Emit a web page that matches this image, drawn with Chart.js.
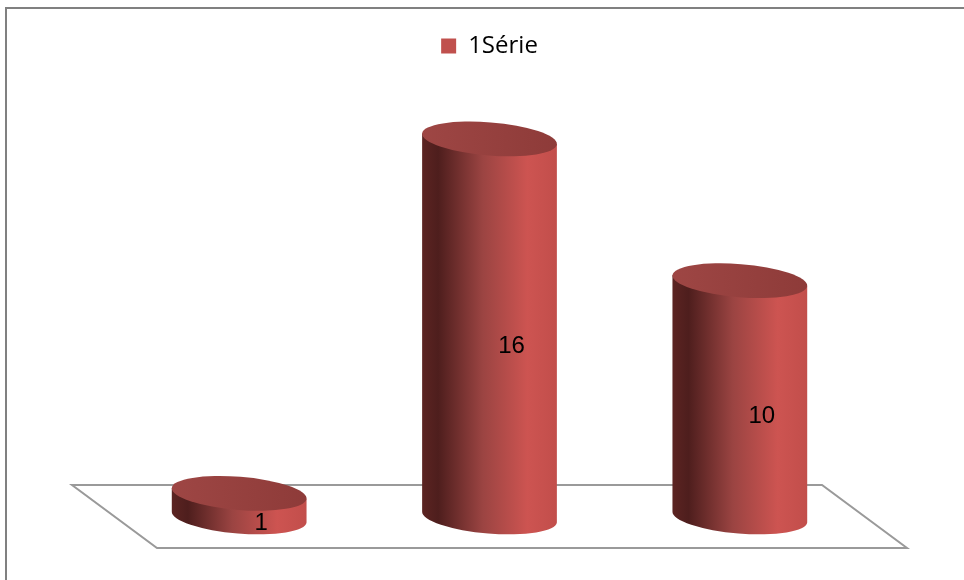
<!DOCTYPE html>
<html>
<head>
<meta charset="utf-8">
<script src="https://cdn.jsdelivr.net/npm/chart.js@4/dist/chart.umd.min.js"></script>
<style>
  html, body { margin: 0; padding: 0; background: #fff; }
  canvas { display: block; }
</style>
</head>
<body>
<canvas id="myChart" width="964" height="580"></canvas>
<script>
const categories = ['1', '2', '3'];
const seriesName = '1Série';
const seriesValues = [1, 16, 10];

const RED = '#C0504D';

// Outer frame and the 3D floor under the cylinders
const framePlugin = {
    id: 'frame',
    beforeDatasetsDraw(chart) {
        const { ctx, chartArea, scales } = chart;
        const base = scales.y.getPixelForValue(0);
        ctx.save();
        ctx.strokeStyle = '#808080';
        ctx.lineWidth = 2;
        ctx.beginPath();
        ctx.moveTo(6, 580);
        ctx.lineTo(6, 8);
        ctx.lineTo(964, 8);
        ctx.stroke();

        const l = chartArea.left, r = chartArea.right;
        ctx.strokeStyle = '#9a9a9a';
        ctx.beginPath();
        ctx.moveTo(l - 42, base - 32);
        ctx.lineTo(r - 43, base - 32);
        ctx.lineTo(r + 42, base + 31);
        ctx.lineTo(l + 43, base + 31);
        ctx.closePath();
        ctx.stroke();
        ctx.restore();
    }
};

// Replace the flat bars with shaded cylinders
const cylinderPlugin = {
    id: 'cylinders',
    beforeDatasetDraw(chart, args) {
        const { ctx } = chart;
        const meta = args.meta;
        const rot = 0.08;
        ctx.save();
        meta.data.forEach((bar, i) => {
            const cx = bar.x;
            const a = bar.width / 2;
            const b = a * 0.245;
            const yTop = bar.y;
            const yBase = bar.base;
            const dx = a * Math.cos(rot), dy = a * Math.sin(rot);

            const side = ctx.createLinearGradient(cx - a, 0, cx + a, 0);
            side.addColorStop(0, '#5c2422');
            side.addColorStop(0.12, '#4e1e1d');
            side.addColorStop(0.45, '#9b4442');
            side.addColorStop(0.78, '#cd5451');
            side.addColorStop(1, '#c24e4b');
            ctx.fillStyle = side;
            ctx.beginPath();
            ctx.moveTo(cx - dx, yTop - dy);
            ctx.lineTo(cx - dx, yBase - dy);
            ctx.ellipse(cx, yBase, a, b, rot, Math.PI, 0, true);
            ctx.lineTo(cx + dx, yTop + dy);
            ctx.closePath();
            ctx.fill();

            const top = ctx.createLinearGradient(cx - a, 0, cx + a, 0);
            top.addColorStop(0, '#9e4644');
            top.addColorStop(1, '#8e3b39');
            ctx.fillStyle = top;
            ctx.beginPath();
            ctx.ellipse(cx, yTop, a, b, rot, 0, Math.PI * 2);
            ctx.fill();

            // value label on the front face
            ctx.fillStyle = '#000';
            ctx.font = '24px "Liberation Sans", Arial, sans-serif';
            ctx.textAlign = 'center';
            ctx.textBaseline = 'middle';
            ctx.fillText(String(seriesValues[i]), cx + 22, (yTop + yBase) / 2 + 18);
        });
        ctx.restore();
        return false;
    }
};

const ctx = document.getElementById('myChart').getContext('2d');
const myChart = new Chart(ctx, {
    type: 'bar',
    data: {
        labels: categories,
        datasets: [{
            label: seriesName,
            data: seriesValues,
            backgroundColor: RED,
            borderWidth: 0,
            barPercentage: 1,
            categoryPercentage: 0.54
        }]
    },
    options: {
        responsive: false,
        animation: false,
        layout: {
            padding: { top: 24, bottom: 63, left: 114, right: 99 }
        },
        scales: {
            x: { display: false },
            y: { display: false, min: 0, max: 19 }
        },
        plugins: {
            tooltip: { enabled: false },
            legend: {
                position: 'top',
                labels: {
                    boxWidth: 15,
                    boxHeight: 15,
                    color: '#000',
                    font: { family: '"Open Sans", sans-serif', size: 24 }
                }
            }
        }
    },
    plugins: [framePlugin, cylinderPlugin]
});
</script>
</body>
</html>
